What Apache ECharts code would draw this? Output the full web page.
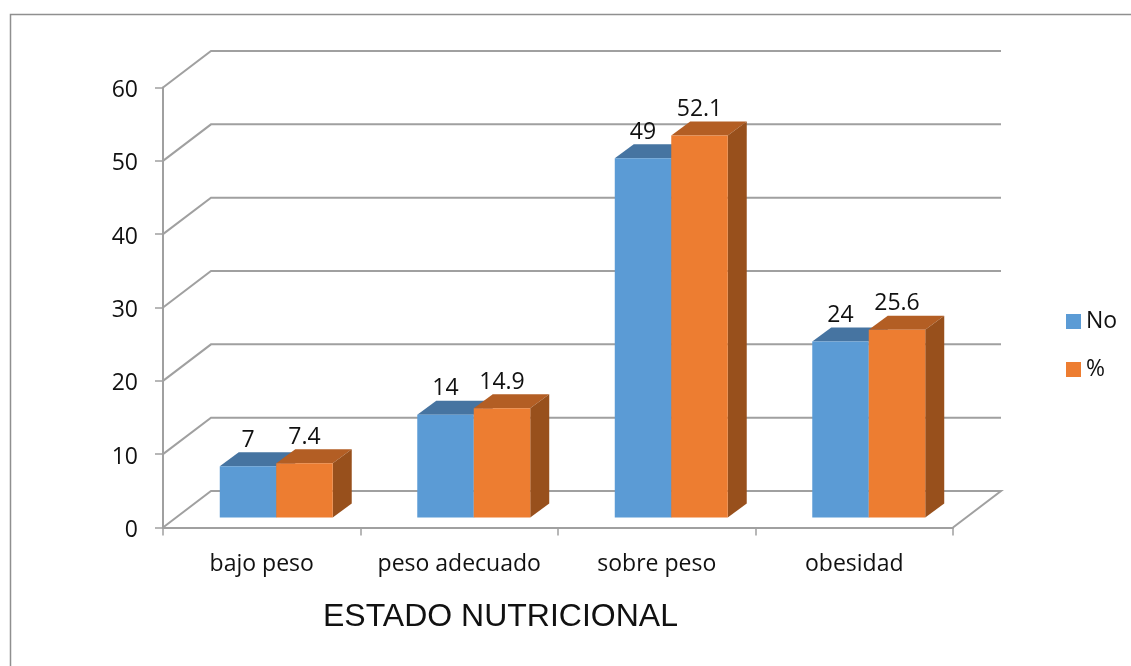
<!DOCTYPE html>
<html>
<head>
<meta charset="utf-8">
<style>html,body{margin:0;padding:0;background:#fff}#c{width:1131px;height:666px}</style>
<script src="https://cdn.jsdelivr.net/npm/echarts@6/dist/echarts.min.js"></script>
</head>
<body>
<div id="c"></div>
<script>
const categories = ['bajo peso', 'peso adecuado', 'sobre peso', 'obesidad'];
const noValues = [7, 14, 49, 24];
const pctValues = [7.4, 14.9, 52.1, 25.6];
const gridValues = [0, 10, 20, 30, 40, 50, 60];
const yTitle = 'ESTADO NUTRICIONAL';

const FONT = '"Open Sans", sans-serif';
const GRID = '#a0a0a0';
const WALL = [48, -36.5];   // depth of the chart floor
const BASE = [14.5, -10];   // bars stand slightly inside the floor
const BAR = [19, -14];      // depth of each bar
const BAR_FRAC = 0.286;

function barSeries(name, values, sign, front, top, side) {
  return {
    type: 'custom', name, coordinateSystem: 'cartesian2d', z: 5,
    itemStyle: { color: front },
    data: values.map((v, i) => [i, v]),
    renderItem(params, api) {
      const w = api.size([1, 0])[0] * BAR_FRAC;
      const p = api.coord([api.value(0), api.value(1)]);
      const b = api.coord([api.value(0), 0]);
      const x0 = p[0] + BASE[0] + (sign < 0 ? -w : 0);
      const x1 = x0 + w;
      const yt = p[1] + BASE[1];
      const yb = b[1] + BASE[1];
      const dx = BAR[0], dy = BAR[1];
      return {
        type: 'group',
        children: [
          { type: 'polygon', shape: { points: [[x0, yt], [x1, yt], [x1 + dx, yt + dy], [x0 + dx, yt + dy]] }, style: { fill: top } },
          { type: 'polygon', shape: { points: [[x1, yt], [x1 + dx, yt + dy], [x1 + dx, yb + dy], [x1, yb]] }, style: { fill: side } },
          { type: 'rect', shape: { x: x0, y: yt, width: w, height: yb - yt }, style: { fill: front } },
          { type: 'text', z2: 50, style: { text: String(api.value(1)), x: (x0 + x1) / 2, y: yt - 26, textAlign: 'center', textVerticalAlign: 'middle', fontSize: 23, fontFamily: FONT, fill: '#111' } }
        ]
      };
    }
  };
}

const chart = echarts.init(document.getElementById('c'));
chart.setOption({
  animation: false,
  backgroundColor: '#fff',
  grid: { left: 163, top: 87.5, width: 790, height: 440 },
  title: { text: yTitle, left: 318, top: 596, textStyle: { fontFamily: '"Liberation Sans", Arial, sans-serif', fontSize: 32, fontWeight: 'normal', color: '#111' } },
  legend: {
    orient: 'vertical', left: 1061, top: 305, itemWidth: 15, itemHeight: 15, itemGap: 25,
    data: [{ name: 'No', icon: 'rect' }, { name: '%', icon: 'rect' }],
    textStyle: { fontFamily: FONT, fontSize: 23, color: '#111' }
  },
  xAxis: {
    type: 'category', data: categories,
    axisLine: { lineStyle: { color: GRID, width: 2 } },
    axisTick: { show: true, interval: 0, alignWithLabel: false, length: 8, lineStyle: { color: GRID, width: 1.5 } },
    axisLabel: { interval: 0, hideOverlap: false, fontFamily: FONT, fontSize: 23, color: '#111', margin: 25 },
    splitLine: { show: false }
  },
  yAxis: {
    type: 'value', min: 0, max: 60, interval: 10,
    axisLine: { show: true, lineStyle: { color: GRID, width: 2 } },
    axisTick: { show: true, length: 8, lineStyle: { color: GRID, width: 1.5 } },
    axisLabel: {
      margin: 25,
      formatter: '{t|{value}}',
      rich: { t: { fontFamily: FONT, fontSize: 23, color: '#111', padding: [6, 0, 0, 0] } }
    },
    splitLine: { show: false }
  },
  graphic: [
    { type: 'polyline', silent: true, shape: { points: [[10.5, 666], [10.5, 14.5], [1131, 14.5]] }, style: { stroke: '#8f8f8f', lineWidth: 1.5, fill: null } }
  ],
  series: [
    {
      type: 'custom', name: 'walls', coordinateSystem: 'cartesian2d', z: 1, silent: true,
      data: gridValues.map(v => [0, v]),
      renderItem(params, api) {
        const v = api.value(1);
        const a = api.coord([0, v]);
        const sw = api.size([1, 0])[0];
        const left = a[0] - sw / 2;
        const right = left + sw * categories.length;
        const y = a[1];
        const style = { stroke: GRID, lineWidth: 2, fill: null };
        const pts = [[left, y], [left + WALL[0], y + WALL[1]], [right + WALL[0], y + WALL[1]]];
        if (v === 0) pts.push([right, y]);
        return { type: 'polyline', shape: { points: pts }, style };
      }
    },
    barSeries('No', noValues, -1, '#5B9BD5', '#4674A1', '#3F6A94'),
    barSeries('%', pctValues, 1, '#ED7D31', '#B35E24', '#98501C')
  ]
});
</script>
</body>
</html>
